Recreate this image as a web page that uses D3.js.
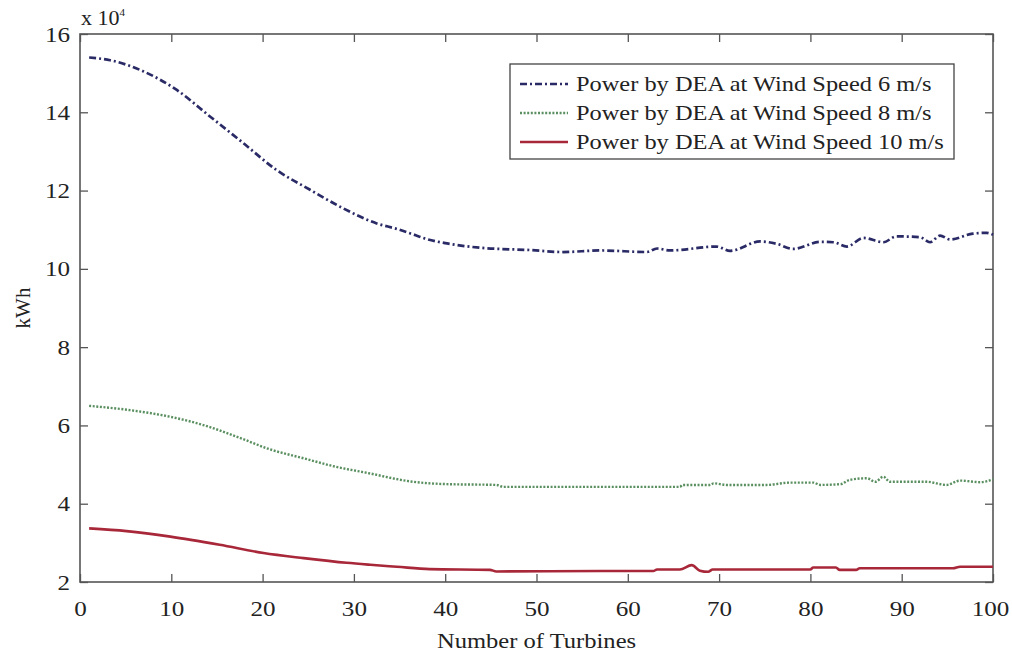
<!DOCTYPE html>
<html>
<head>
<meta charset="utf-8">
<script src="https://cdn.jsdelivr.net/npm/d3@7"></script>
<style>
  body { margin: 0; background: #fff; }
  svg text { font-family: "Liberation Serif", "Times New Roman", Times, "DejaVu Serif", serif; fill: #222; }
</style>
</head>
<body>
<div id="graph"></div>
<script>
//setting dimension
var width = 1012,
    height = 658;
var margin = {left: 80, right: 19, top: 34, bottom: 76};
var serifFont = "'Liberation Serif', 'Times New Roman', Times, 'DejaVu Serif', serif";
var sx = 1.22;     // legend text is a bit wider than plain Times
var sxTick = 1.14; // tick labels

//data (units of 10^4 kWh)
var seriesNames = ["Power by DEA at Wind Speed 6 m/s", "Power by DEA at Wind Speed 8 m/s", "Power by DEA at Wind Speed 10 m/s"];

var turb6 = [1, 3.3, 6.9, 10.6, 14.2, 17.9, 21.5, 25.2, 28.8, 32.5, 34.7, 36.5, 38, 40.2, 43.8, 49.3, 52.9, 57, 62.1, 63.2, 64.6, 69.7, 71.2, 74.5, 76.3, 78.1, 81.1, 82.5, 84, 85.8, 88, 89.4, 92, 93.1, 94.2, 95.3, 97.8, 99.3, 100];
var power6 = [15.4, 15.33, 15.05, 14.57, 13.9, 13.21, 12.53, 12.02, 11.55, 11.16, 11.02, 10.88, 10.76, 10.65, 10.54, 10.48, 10.43, 10.47, 10.43, 10.52, 10.47, 10.57, 10.46, 10.7, 10.64, 10.51, 10.69, 10.68, 10.57, 10.79, 10.68, 10.83, 10.81, 10.68, 10.85, 10.75, 10.9, 10.92, 10.87];

var turb8 = [1, 5.5, 9.9, 13.5, 17.2, 20.8, 24.5, 28.1, 31.4, 36.5, 40.2, 45.6, 46.4, 57, 65.7, 66, 69, 69.4, 70.8, 75.2, 77.8, 80.3, 81.1, 83.3, 84.3, 86.2, 87.1, 88, 88.7, 92.7, 94.9, 96.4, 98.6, 100];
var power8 = [6.5, 6.39, 6.22, 6.01, 5.71, 5.39, 5.16, 4.94, 4.79, 4.56, 4.5, 4.48, 4.43, 4.43, 4.43, 4.48, 4.48, 4.52, 4.48, 4.48, 4.54, 4.54, 4.48, 4.5, 4.61, 4.65, 4.56, 4.69, 4.56, 4.56, 4.48, 4.59, 4.55, 4.62];

var turb10 = [1, 5.1, 9.9, 15.3, 20.1, 24.5, 29.2, 31.8, 34.7, 38.3, 44.9, 45.6, 57, 62.8, 63.2, 65.7, 67, 67.9, 68.8, 69.3, 80, 80.3, 82.8, 83.2, 85, 85.4, 95.6, 96.4, 100];
var power10 = [3.37, 3.3, 3.16, 2.95, 2.74, 2.61, 2.49, 2.44, 2.39, 2.33, 2.31, 2.27, 2.28, 2.28, 2.32, 2.32, 2.43, 2.29, 2.26, 2.32, 2.32, 2.37, 2.37, 2.31, 2.31, 2.35, 2.35, 2.39, 2.39];

var xTicks = [0, 10, 20, 30, 40, 50, 60, 70, 80, 90, 100];
var yTicks = [2, 4, 6, 8, 10, 12, 14, 16];

var styles = [
  {color: "#2a2b66", dash: "7,3,2,3", w: 2.7},
  {color: "#5a8f60", dash: "2,1.6", w: 2.4},
  {color: "#a8283a", dash: null, w: 2.6}
];

var svg = d3.select("#graph").append("svg")
    .attr("width", width)
    .attr("height", height)
    .style("font-family", serifFont);

var x = d3.scaleLinear().domain([0, 100]).range([margin.left, width - margin.right]);
var y = d3.scaleLinear().domain([2, 16]).range([height - margin.bottom, margin.top]);

var x0 = x(0), x1 = x(100), y0 = y(2), y1 = y(16);

//axes with inner ticks
var axisCol = "#555";
var xAxis = svg.append("g")
    .attr("transform", "translate(0," + y0 + ")")
    .call(d3.axisBottom(x).tickValues(xTicks).tickSizeInner(-8).tickSizeOuter(0).tickPadding(18))
    .call(function(g){ g.select(".domain").remove(); });
svg.append("g")
    .attr("transform", "translate(0," + y1 + ")")
    .call(d3.axisTop(x).tickValues(xTicks).tickSizeInner(-8).tickSizeOuter(0).tickFormat(""))
    .call(function(g){ g.select(".domain").remove(); });
var yAxis = svg.append("g")
    .attr("transform", "translate(" + x0 + ",0)")
    .call(d3.axisLeft(y).tickValues(yTicks).tickSizeInner(-8).tickSizeOuter(0).tickPadding(10))
    .call(function(g){ g.select(".domain").remove(); });
svg.append("g")
    .attr("transform", "translate(" + x1 + ",0)")
    .call(d3.axisRight(y).tickValues(yTicks).tickSizeInner(-8).tickSizeOuter(0).tickFormat(""))
    .call(function(g){ g.select(".domain").remove(); });

svg.selectAll("g").attr("font-family", serifFont);
svg.selectAll(".tick line").attr("stroke", axisCol).attr("stroke-width", 1.3);
svg.selectAll(".tick text")
    .style("font-family", serifFont)
    .style("font-size", "22px")
    .attr("fill", "#2a2a2a");

// stretch tick labels sideways, keeping their anchor point
xAxis.selectAll(".tick text").each(function(d){
  var t = d3.select(this), ty = +t.attr("y");
  var shift = d === 100 ? -3 : 0;  // keep the last label inside the page
  t.attr("y", null).attr("transform", "translate(" + shift + "," + ty + ") scale(" + sxTick + ",1)");
});
yAxis.selectAll(".tick text").each(function(){
  var t = d3.select(this), tx = +t.attr("x");
  t.attr("x", null).attr("transform", "translate(" + tx + ",0) scale(" + sxTick + ",1)");
});

svg.append("rect")
    .attr("x", x0).attr("y", y1)
    .attr("width", x1 - x0).attr("height", y0 - y1)
    .attr("fill", "none")
    .attr("stroke", axisCol)
    .attr("stroke-width", 1.6);

//lines
var line = d3.line()
    .x(function(d){ return x(d[0]); })
    .y(function(d){ return y(d[1]); })
    .curve(d3.curveMonotoneX);

var series = [d3.zip(turb6, power6), d3.zip(turb8, power8), d3.zip(turb10, power10)];

svg.selectAll("path.series")
    .data(series)
    .enter()
    .append("path")
    .attr("class", "series")
    .attr("d", line)
    .attr("fill", "none")
    .attr("stroke", function(d, i){ return styles[i].color; })
    .attr("stroke-width", function(d, i){ return styles[i].w; })
    .attr("stroke-dasharray", function(d, i){ return styles[i].dash; });

//labels
var mult = svg.append("text")
    .attr("transform", "translate(81,25) scale(1.1,1)")
    .style("font-size", "20px")
    .text("x 10");
mult.append("tspan")
    .attr("dy", -9)
    .style("font-size", "10px")
    .text("4");

svg.append("text")
    .attr("transform", "translate(30," + ((y0 + y1) / 2) + ") rotate(-90)")
    .attr("text-anchor", "middle")
    .style("font-size", "21px")
    .text("kWh");

svg.append("text")
    .attr("transform", "translate(" + ((x0 + x1) / 2) + ",648) scale(1.17,1)")
    .attr("text-anchor", "middle")
    .style("font-size", "21px")
    .text("Number of Turbines");

//legend
var legend = svg.append("g");
legend.append("rect")
    .attr("x", 510).attr("y", 64)
    .attr("width", 444).attr("height", 95)
    .attr("fill", "#fff")
    .attr("stroke", "#444")
    .attr("stroke-width", 1.3);

var rows = legend.selectAll("g.row")
    .data(seriesNames)
    .enter()
    .append("g")
    .attr("class", "row")
    .attr("transform", function(d, i){ return "translate(0," + (84 + i * 29) + ")"; });

rows.append("line")
    .attr("x1", 520).attr("x2", 568)
    .attr("y1", 0).attr("y2", 0)
    .attr("stroke", function(d, i){ return styles[i].color; })
    .attr("stroke-width", function(d, i){ return styles[i].w; })
    .attr("stroke-dasharray", function(d, i){ return styles[i].dash; });

rows.append("text")
    .attr("transform", "translate(576,0) scale(" + sx + ",1)")
    .attr("dy", "0.35em")
    .style("font-size", "20px")
    .text(function(d){ return d; });
</script>
</body>
</html>
